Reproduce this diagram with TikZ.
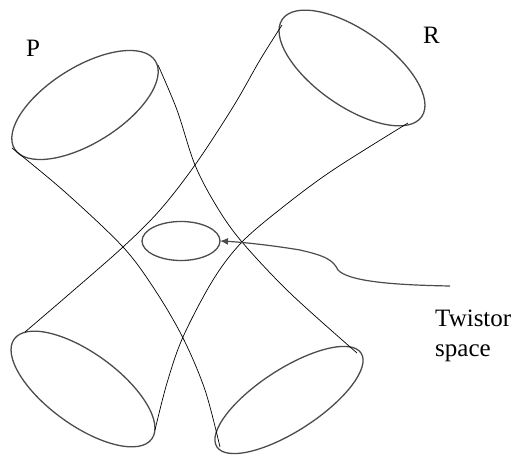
\documentclass[tikz,border=0pt]{standalone}
\usepackage{fontspec}
\setmainfont{Liberation Serif}
\newfontfamily\lblfont{Liberation Serif}
\usetikzlibrary{shapes.geometric,arrows.meta}
\begin{document}
\begin{tikzpicture}[x=1pt,y=1pt,
  rim/.style={draw=black!70,line width=1.3pt,ellipse,inner sep=0pt,outer sep=0pt},
  cone/.style={draw=black,line width=0.7pt},
  lbl/.style={anchor=base west,inner sep=0pt,font=\lblfont\fontsize{25}{30}\selectfont}]
\useasboundingbox (0,0) rectangle (515,455);
% cone rims
\node[rim,rotate=32,minimum width=166,minimum height=76] (P) at (85,350) {};
\node[rim,rotate=-35,minimum width=170,minimum height=76] (R) at (352,387) {};
\node[rim,rotate=-36,minimum width=170,minimum height=72] (Q) at (83,66) {};
\node[rim,rotate=33,minimum width=172,minimum height=62] (S) at (289,55) {};
% twistor space
\node[rim,minimum width=78,minimum height=39] (T) at (181,214) {};
% hyperboloid generators
\draw[cone] plot[smooth,tension=0.55] coordinates {(12,307) (65,263) (123,208) (155,165) (183,117) (205,65) (220,8)};
\draw[cone] plot[smooth,tension=0.55] coordinates {(158,390) (177,345) (195,290) (217,248) (242,213) (290,162) (357,102)};
\draw[cone] plot[smooth,tension=0.55] coordinates {(282,430) (260,395) (233,348) (195,290) (160,245) (123,208) (67,159) (25,123)};
\draw[cone] plot[smooth,tension=0.55] coordinates {(408,332) (333,285) (283,248) (242,213) (213,175) (183,118) (167,72) (155,25)};
% labels
\node[lbl] (lP) at (26,398) {P};
\node[lbl] (lR) at (423,411) {R};
\node[lbl] (lT1) at (435,128) {Twistor};
\node[lbl] (lT2) at (435,98) {space};
% arrow
\coordinate (tail) at (450,169);
\draw[draw=black!70,line width=1.2pt,-{Latex[length=8pt,width=7pt]}]
  (tail) .. controls (390,170) and (348,174) .. (338,185)
  .. controls (333,195) and (326,199) .. (300,205)
  .. controls (270,210) and (240,213) .. (T.east);
\end{tikzpicture}
\end{document}
